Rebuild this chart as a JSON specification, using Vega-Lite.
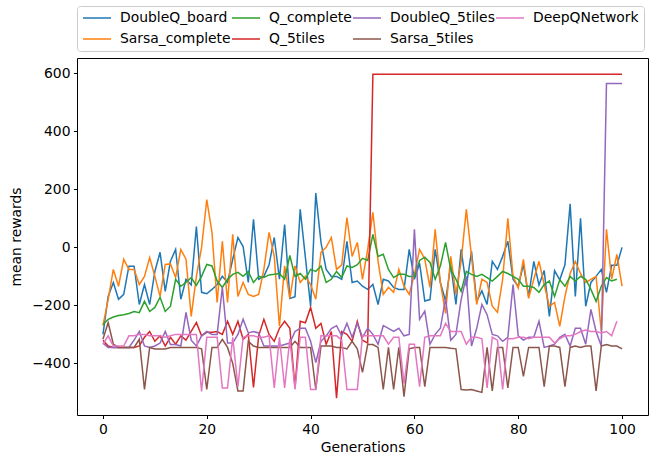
{
"$schema": "https://vega.github.io/schema/vega-lite/v6.json",
"width": 571,
"height": 357,
"autosize": {"type": "none"},
"padding": {"left": 77, "top": 58, "right": 14, "bottom": 40},
"background": "white",
"config": {
  "view": {"stroke": "black", "strokeWidth": 1},
  "font": "DejaVu Sans",
  "axis": {"grid": false, "domain": false, "tickColor": "black", "tickSize": 3.5, "tickWidth": 1, "labelFont": "DejaVu Sans", "labelFontSize": 13.9, "labelColor": "black", "labelPadding": 3.5, "titleFont": "DejaVu Sans", "titleFontSize": 13.9, "titleFontWeight": "normal", "titleColor": "black"},
  "legend": {"orient": "none", "legendX": 0, "legendY": -52, "columns": 4, "symbolType": "stroke", "symbolSize": 784, "symbolStrokeWidth": 1.5, "labelFont": "DejaVu Sans", "labelFontSize": 13.9, "labelColor": "black", "labelOffset": 8, "columnPadding": 0, "rowPadding": 7, "padding": 5, "clipHeight": 14, "strokeColor": "#cccccc", "fillColor": "white", "cornerRadius": 3}
},
"data": {"values": [
{"gen":0,"algo":"DoubleQ_board","val":-300},{"gen":1,"algo":"DoubleQ_board","val":-169},{"gen":2,"algo":"DoubleQ_board","val":-121},{"gen":3,"algo":"DoubleQ_board","val":-179},{"gen":4,"algo":"DoubleQ_board","val":-162},{"gen":5,"algo":"DoubleQ_board","val":-65},{"gen":6,"algo":"DoubleQ_board","val":-65},{"gen":7,"algo":"DoubleQ_board","val":-197},{"gen":8,"algo":"DoubleQ_board","val":-128},{"gen":9,"algo":"DoubleQ_board","val":-197},
{"gen":10,"algo":"DoubleQ_board","val":-83},{"gen":11,"algo":"DoubleQ_board","val":-17},{"gen":12,"algo":"DoubleQ_board","val":-152},{"gen":13,"algo":"DoubleQ_board","val":-48},{"gen":14,"algo":"DoubleQ_board","val":-7},{"gen":15,"algo":"DoubleQ_board","val":-179},{"gen":16,"algo":"DoubleQ_board","val":-110},{"gen":17,"algo":"DoubleQ_board","val":-130},{"gen":18,"algo":"DoubleQ_board","val":72},{"gen":19,"algo":"DoubleQ_board","val":-155},
{"gen":20,"algo":"DoubleQ_board","val":-160},{"gen":21,"algo":"DoubleQ_board","val":-145},{"gen":22,"algo":"DoubleQ_board","val":-128},{"gen":23,"algo":"DoubleQ_board","val":-100},{"gen":24,"algo":"DoubleQ_board","val":-121},{"gen":25,"algo":"DoubleQ_board","val":-41},{"gen":26,"algo":"DoubleQ_board","val":34},{"gen":27,"algo":"DoubleQ_board","val":3},{"gen":28,"algo":"DoubleQ_board","val":-121},{"gen":29,"algo":"DoubleQ_board","val":97},
{"gen":30,"algo":"DoubleQ_board","val":-110},{"gen":31,"algo":"DoubleQ_board","val":-100},{"gen":32,"algo":"DoubleQ_board","val":-60},{"gen":33,"algo":"DoubleQ_board","val":34},{"gen":34,"algo":"DoubleQ_board","val":-110},{"gen":35,"algo":"DoubleQ_board","val":79},{"gen":36,"algo":"DoubleQ_board","val":-176},{"gen":37,"algo":"DoubleQ_board","val":-170},{"gen":38,"algo":"DoubleQ_board","val":131},{"gen":39,"algo":"DoubleQ_board","val":-35},
{"gen":40,"algo":"DoubleQ_board","val":-203},{"gen":41,"algo":"DoubleQ_board","val":187},{"gen":42,"algo":"DoubleQ_board","val":17},{"gen":43,"algo":"DoubleQ_board","val":-76},{"gen":44,"algo":"DoubleQ_board","val":-100},{"gen":45,"algo":"DoubleQ_board","val":-100},{"gen":46,"algo":"DoubleQ_board","val":-110},{"gen":47,"algo":"DoubleQ_board","val":21},{"gen":48,"algo":"DoubleQ_board","val":-121},{"gen":49,"algo":"DoubleQ_board","val":-116},
{"gen":50,"algo":"DoubleQ_board","val":-134},{"gen":51,"algo":"DoubleQ_board","val":-145},{"gen":52,"algo":"DoubleQ_board","val":-128},{"gen":53,"algo":"DoubleQ_board","val":-197},{"gen":54,"algo":"DoubleQ_board","val":-110},{"gen":55,"algo":"DoubleQ_board","val":-116},{"gen":56,"algo":"DoubleQ_board","val":-138},{"gen":57,"algo":"DoubleQ_board","val":-145},{"gen":58,"algo":"DoubleQ_board","val":-145},{"gen":59,"algo":"DoubleQ_board","val":-7},
{"gen":60,"algo":"DoubleQ_board","val":-110},{"gen":61,"algo":"DoubleQ_board","val":-55},{"gen":62,"algo":"DoubleQ_board","val":-185},{"gen":63,"algo":"DoubleQ_board","val":-180},{"gen":64,"algo":"DoubleQ_board","val":-7},{"gen":65,"algo":"DoubleQ_board","val":-121},{"gen":66,"algo":"DoubleQ_board","val":-185},{"gen":67,"algo":"DoubleQ_board","val":-60},{"gen":68,"algo":"DoubleQ_board","val":-197},{"gen":69,"algo":"DoubleQ_board","val":-7},
{"gen":70,"algo":"DoubleQ_board","val":-134},{"gen":71,"algo":"DoubleQ_board","val":-14},{"gen":72,"algo":"DoubleQ_board","val":-185},{"gen":73,"algo":"DoubleQ_board","val":-150},{"gen":74,"algo":"DoubleQ_board","val":-197},{"gen":75,"algo":"DoubleQ_board","val":-48},{"gen":76,"algo":"DoubleQ_board","val":-76},{"gen":77,"algo":"DoubleQ_board","val":-31},{"gen":78,"algo":"DoubleQ_board","val":21},{"gen":79,"algo":"DoubleQ_board","val":-110},
{"gen":80,"algo":"DoubleQ_board","val":-134},{"gen":81,"algo":"DoubleQ_board","val":-59},{"gen":82,"algo":"DoubleQ_board","val":-169},{"gen":83,"algo":"DoubleQ_board","val":-48},{"gen":84,"algo":"DoubleQ_board","val":-130},{"gen":85,"algo":"DoubleQ_board","val":-80},{"gen":86,"algo":"DoubleQ_board","val":-238},{"gen":87,"algo":"DoubleQ_board","val":-80},{"gen":88,"algo":"DoubleQ_board","val":-112},{"gen":89,"algo":"DoubleQ_board","val":-60},
{"gen":90,"algo":"DoubleQ_board","val":150},{"gen":91,"algo":"DoubleQ_board","val":-169},{"gen":92,"algo":"DoubleQ_board","val":100},{"gen":93,"algo":"DoubleQ_board","val":-203},{"gen":94,"algo":"DoubleQ_board","val":-121},{"gen":95,"algo":"DoubleQ_board","val":-100},{"gen":96,"algo":"DoubleQ_board","val":-76},{"gen":97,"algo":"DoubleQ_board","val":-155},{"gen":98,"algo":"DoubleQ_board","val":-62},{"gen":99,"algo":"DoubleQ_board","val":-62},{"gen":100,"algo":"DoubleQ_board","val":0},

{"gen":0,"algo":"Sarsa_complete","val":-270},{"gen":1,"algo":"Sarsa_complete","val":-180},{"gen":2,"algo":"Sarsa_complete","val":-76},{"gen":3,"algo":"Sarsa_complete","val":-134},{"gen":4,"algo":"Sarsa_complete","val":-41},{"gen":5,"algo":"Sarsa_complete","val":-76},{"gen":6,"algo":"Sarsa_complete","val":-76},{"gen":7,"algo":"Sarsa_complete","val":-128},{"gen":8,"algo":"Sarsa_complete","val":-100},{"gen":9,"algo":"Sarsa_complete","val":-35},
{"gen":10,"algo":"Sarsa_complete","val":-100},{"gen":11,"algo":"Sarsa_complete","val":-169},{"gen":12,"algo":"Sarsa_complete","val":-59},{"gen":13,"algo":"Sarsa_complete","val":-57},{"gen":14,"algo":"Sarsa_complete","val":-104},{"gen":15,"algo":"Sarsa_complete","val":-7},{"gen":16,"algo":"Sarsa_complete","val":-41},{"gen":17,"algo":"Sarsa_complete","val":-238},{"gen":18,"algo":"Sarsa_complete","val":-100},{"gen":19,"algo":"Sarsa_complete","val":0},
{"gen":20,"algo":"Sarsa_complete","val":165},{"gen":21,"algo":"Sarsa_complete","val":52},{"gen":22,"algo":"Sarsa_complete","val":-190},{"gen":23,"algo":"Sarsa_complete","val":21},{"gen":24,"algo":"Sarsa_complete","val":-190},{"gen":25,"algo":"Sarsa_complete","val":45},{"gen":26,"algo":"Sarsa_complete","val":-169},{"gen":27,"algo":"Sarsa_complete","val":-121},{"gen":28,"algo":"Sarsa_complete","val":-162},{"gen":29,"algo":"Sarsa_complete","val":-169},
{"gen":30,"algo":"Sarsa_complete","val":-162},{"gen":31,"algo":"Sarsa_complete","val":-76},{"gen":32,"algo":"Sarsa_complete","val":52},{"gen":33,"algo":"Sarsa_complete","val":-31},{"gen":34,"algo":"Sarsa_complete","val":-272},{"gen":35,"algo":"Sarsa_complete","val":-64},{"gen":36,"algo":"Sarsa_complete","val":-176},{"gen":37,"algo":"Sarsa_complete","val":-64},{"gen":38,"algo":"Sarsa_complete","val":-121},{"gen":39,"algo":"Sarsa_complete","val":-100},
{"gen":40,"algo":"Sarsa_complete","val":-128},{"gen":41,"algo":"Sarsa_complete","val":-179},{"gen":42,"algo":"Sarsa_complete","val":-17},{"gen":43,"algo":"Sarsa_complete","val":0},{"gen":44,"algo":"Sarsa_complete","val":34},{"gen":45,"algo":"Sarsa_complete","val":-76},{"gen":46,"algo":"Sarsa_complete","val":-60},{"gen":47,"algo":"Sarsa_complete","val":103},{"gen":48,"algo":"Sarsa_complete","val":-31},{"gen":49,"algo":"Sarsa_complete","val":17},
{"gen":50,"algo":"Sarsa_complete","val":-110},{"gen":51,"algo":"Sarsa_complete","val":-7},{"gen":52,"algo":"Sarsa_complete","val":121},{"gen":53,"algo":"Sarsa_complete","val":-48},{"gen":54,"algo":"Sarsa_complete","val":-162},{"gen":55,"algo":"Sarsa_complete","val":-138},{"gen":56,"algo":"Sarsa_complete","val":-155},{"gen":57,"algo":"Sarsa_complete","val":-76},{"gen":58,"algo":"Sarsa_complete","val":-134},{"gen":59,"algo":"Sarsa_complete","val":-162},
{"gen":60,"algo":"Sarsa_complete","val":-93},{"gen":61,"algo":"Sarsa_complete","val":-7},{"gen":62,"algo":"Sarsa_complete","val":-41},{"gen":63,"algo":"Sarsa_complete","val":-138},{"gen":64,"algo":"Sarsa_complete","val":62},{"gen":65,"algo":"Sarsa_complete","val":-121},{"gen":66,"algo":"Sarsa_complete","val":-228},{"gen":67,"algo":"Sarsa_complete","val":-31},{"gen":68,"algo":"Sarsa_complete","val":-162},{"gen":69,"algo":"Sarsa_complete","val":-48},
{"gen":70,"algo":"Sarsa_complete","val":131},{"gen":71,"algo":"Sarsa_complete","val":-31},{"gen":72,"algo":"Sarsa_complete","val":-197},{"gen":73,"algo":"Sarsa_complete","val":-110},{"gen":74,"algo":"Sarsa_complete","val":-121},{"gen":75,"algo":"Sarsa_complete","val":-203},{"gen":76,"algo":"Sarsa_complete","val":-224},{"gen":77,"algo":"Sarsa_complete","val":-110},{"gen":78,"algo":"Sarsa_complete","val":100},{"gen":79,"algo":"Sarsa_complete","val":-100},
{"gen":80,"algo":"Sarsa_complete","val":-140},{"gen":81,"algo":"Sarsa_complete","val":-41},{"gen":82,"algo":"Sarsa_complete","val":-176},{"gen":83,"algo":"Sarsa_complete","val":-110},{"gen":84,"algo":"Sarsa_complete","val":-48},{"gen":85,"algo":"Sarsa_complete","val":-128},{"gen":86,"algo":"Sarsa_complete","val":-203},{"gen":87,"algo":"Sarsa_complete","val":-190},{"gen":88,"algo":"Sarsa_complete","val":-272},{"gen":89,"algo":"Sarsa_complete","val":-169},
{"gen":90,"algo":"Sarsa_complete","val":-90},{"gen":91,"algo":"Sarsa_complete","val":-48},{"gen":92,"algo":"Sarsa_complete","val":-90},{"gen":93,"algo":"Sarsa_complete","val":-121},{"gen":94,"algo":"Sarsa_complete","val":-110},{"gen":95,"algo":"Sarsa_complete","val":-100},{"gen":96,"algo":"Sarsa_complete","val":-290},{"gen":97,"algo":"Sarsa_complete","val":62},{"gen":98,"algo":"Sarsa_complete","val":-110},{"gen":99,"algo":"Sarsa_complete","val":-24},{"gen":100,"algo":"Sarsa_complete","val":-134},

{"gen":0,"algo":"Q_complete","val":-266},{"gen":1,"algo":"Q_complete","val":-248},{"gen":2,"algo":"Q_complete","val":-240},{"gen":3,"algo":"Q_complete","val":-235},{"gen":4,"algo":"Q_complete","val":-232},{"gen":5,"algo":"Q_complete","val":-228},{"gen":6,"algo":"Q_complete","val":-221},{"gen":7,"algo":"Q_complete","val":-225},{"gen":8,"algo":"Q_complete","val":-186},{"gen":9,"algo":"Q_complete","val":-221},
{"gen":10,"algo":"Q_complete","val":-207},{"gen":11,"algo":"Q_complete","val":-172},{"gen":12,"algo":"Q_complete","val":-221},{"gen":13,"algo":"Q_complete","val":-203},{"gen":14,"algo":"Q_complete","val":-110},{"gen":15,"algo":"Q_complete","val":-134},{"gen":16,"algo":"Q_complete","val":-121},{"gen":17,"algo":"Q_complete","val":-104},{"gen":18,"algo":"Q_complete","val":-131},{"gen":19,"algo":"Q_complete","val":-100},
{"gen":20,"algo":"Q_complete","val":-59},{"gen":21,"algo":"Q_complete","val":-64},{"gen":22,"algo":"Q_complete","val":-116},{"gen":23,"algo":"Q_complete","val":-138},{"gen":24,"algo":"Q_complete","val":-110},{"gen":25,"algo":"Q_complete","val":-93},{"gen":26,"algo":"Q_complete","val":-86},{"gen":27,"algo":"Q_complete","val":-100},{"gen":28,"algo":"Q_complete","val":-83},{"gen":29,"algo":"Q_complete","val":-121},
{"gen":30,"algo":"Q_complete","val":-100},{"gen":31,"algo":"Q_complete","val":-104},{"gen":32,"algo":"Q_complete","val":-95},{"gen":33,"algo":"Q_complete","val":-93},{"gen":34,"algo":"Q_complete","val":-90},{"gen":35,"algo":"Q_complete","val":-110},{"gen":36,"algo":"Q_complete","val":-28},{"gen":37,"algo":"Q_complete","val":-100},{"gen":38,"algo":"Q_complete","val":-90},{"gen":39,"algo":"Q_complete","val":-110},
{"gen":40,"algo":"Q_complete","val":-76},{"gen":41,"algo":"Q_complete","val":-83},{"gen":42,"algo":"Q_complete","val":-64},{"gen":43,"algo":"Q_complete","val":-121},{"gen":44,"algo":"Q_complete","val":-110},{"gen":45,"algo":"Q_complete","val":-83},{"gen":46,"algo":"Q_complete","val":-104},{"gen":47,"algo":"Q_complete","val":-64},{"gen":48,"algo":"Q_complete","val":-69},{"gen":49,"algo":"Q_complete","val":-60},
{"gen":50,"algo":"Q_complete","val":-38},{"gen":51,"algo":"Q_complete","val":-45},{"gen":52,"algo":"Q_complete","val":45},{"gen":53,"algo":"Q_complete","val":-31},{"gen":54,"algo":"Q_complete","val":-24},{"gen":55,"algo":"Q_complete","val":-76},{"gen":56,"algo":"Q_complete","val":-104},{"gen":57,"algo":"Q_complete","val":-93},{"gen":58,"algo":"Q_complete","val":-93},{"gen":59,"algo":"Q_complete","val":-100},
{"gen":60,"algo":"Q_complete","val":-100},{"gen":61,"algo":"Q_complete","val":-45},{"gen":62,"algo":"Q_complete","val":-34},{"gen":63,"algo":"Q_complete","val":-52},{"gen":64,"algo":"Q_complete","val":-110},{"gen":65,"algo":"Q_complete","val":-64},{"gen":66,"algo":"Q_complete","val":17},{"gen":67,"algo":"Q_complete","val":-76},{"gen":68,"algo":"Q_complete","val":-110},{"gen":69,"algo":"Q_complete","val":-152},
{"gen":70,"algo":"Q_complete","val":-83},{"gen":71,"algo":"Q_complete","val":-93},{"gen":72,"algo":"Q_complete","val":-100},{"gen":73,"algo":"Q_complete","val":-93},{"gen":74,"algo":"Q_complete","val":-104},{"gen":75,"algo":"Q_complete","val":-116},{"gen":76,"algo":"Q_complete","val":-100},{"gen":77,"algo":"Q_complete","val":-83},{"gen":78,"algo":"Q_complete","val":-90},{"gen":79,"algo":"Q_complete","val":-100},
{"gen":80,"algo":"Q_complete","val":-110},{"gen":81,"algo":"Q_complete","val":-134},{"gen":82,"algo":"Q_complete","val":-134},{"gen":83,"algo":"Q_complete","val":-138},{"gen":84,"algo":"Q_complete","val":-155},{"gen":85,"algo":"Q_complete","val":-128},{"gen":86,"algo":"Q_complete","val":-116},{"gen":87,"algo":"Q_complete","val":-169},{"gen":88,"algo":"Q_complete","val":-112},{"gen":89,"algo":"Q_complete","val":-134},
{"gen":90,"algo":"Q_complete","val":-100},{"gen":91,"algo":"Q_complete","val":-116},{"gen":92,"algo":"Q_complete","val":-100},{"gen":93,"algo":"Q_complete","val":-110},{"gen":94,"algo":"Q_complete","val":-145},{"gen":95,"algo":"Q_complete","val":-186},{"gen":96,"algo":"Q_complete","val":-134},{"gen":97,"algo":"Q_complete","val":-104},{"gen":98,"algo":"Q_complete","val":-116},{"gen":99,"algo":"Q_complete","val":-110},

{"gen":0,"algo":"Q_5tiles","val":-320},{"gen":1,"algo":"Q_5tiles","val":-340},{"gen":2,"algo":"Q_5tiles","val":-345},{"gen":3,"algo":"Q_5tiles","val":-345},{"gen":4,"algo":"Q_5tiles","val":-345},{"gen":5,"algo":"Q_5tiles","val":-345},{"gen":6,"algo":"Q_5tiles","val":-345},{"gen":7,"algo":"Q_5tiles","val":-340},{"gen":8,"algo":"Q_5tiles","val":-310},{"gen":9,"algo":"Q_5tiles","val":-290},
{"gen":10,"algo":"Q_5tiles","val":-324},{"gen":11,"algo":"Q_5tiles","val":-305},{"gen":12,"algo":"Q_5tiles","val":-340},{"gen":13,"algo":"Q_5tiles","val":-310},{"gen":14,"algo":"Q_5tiles","val":-334},{"gen":15,"algo":"Q_5tiles","val":-305},{"gen":16,"algo":"Q_5tiles","val":-320},{"gen":17,"algo":"Q_5tiles","val":-290},{"gen":18,"algo":"Q_5tiles","val":-259},{"gen":19,"algo":"Q_5tiles","val":-305},
{"gen":20,"algo":"Q_5tiles","val":-293},{"gen":21,"algo":"Q_5tiles","val":-293},{"gen":22,"algo":"Q_5tiles","val":-290},{"gen":23,"algo":"Q_5tiles","val":-300},{"gen":24,"algo":"Q_5tiles","val":-255},{"gen":25,"algo":"Q_5tiles","val":-300},{"gen":26,"algo":"Q_5tiles","val":-255},{"gen":27,"algo":"Q_5tiles","val":-317},{"gen":28,"algo":"Q_5tiles","val":-300},{"gen":29,"algo":"Q_5tiles","val":-483},
{"gen":30,"algo":"Q_5tiles","val":-305},{"gen":31,"algo":"Q_5tiles","val":-248},{"gen":32,"algo":"Q_5tiles","val":-300},{"gen":33,"algo":"Q_5tiles","val":-324},{"gen":34,"algo":"Q_5tiles","val":-279},{"gen":35,"algo":"Q_5tiles","val":-255},{"gen":36,"algo":"Q_5tiles","val":-279},{"gen":37,"algo":"Q_5tiles","val":-483},{"gen":38,"algo":"Q_5tiles","val":-255},{"gen":39,"algo":"Q_5tiles","val":-260},
{"gen":40,"algo":"Q_5tiles","val":-207},{"gen":41,"algo":"Q_5tiles","val":-279},{"gen":42,"algo":"Q_5tiles","val":-262},{"gen":43,"algo":"Q_5tiles","val":-334},{"gen":44,"algo":"Q_5tiles","val":-290},{"gen":45,"algo":"Q_5tiles","val":-520},{"gen":46,"algo":"Q_5tiles","val":-290},{"gen":47,"algo":"Q_5tiles","val":-300},{"gen":48,"algo":"Q_5tiles","val":-324},{"gen":49,"algo":"Q_5tiles","val":-255},
{"gen":50,"algo":"Q_5tiles","val":-320},{"gen":51,"algo":"Q_5tiles","val":-330},{"gen":52,"algo":"Q_5tiles","val":597},{"gen":53,"algo":"Q_5tiles","val":597},{"gen":54,"algo":"Q_5tiles","val":597},{"gen":55,"algo":"Q_5tiles","val":597},{"gen":56,"algo":"Q_5tiles","val":597},{"gen":57,"algo":"Q_5tiles","val":597},{"gen":58,"algo":"Q_5tiles","val":597},{"gen":59,"algo":"Q_5tiles","val":597},
{"gen":60,"algo":"Q_5tiles","val":597},{"gen":61,"algo":"Q_5tiles","val":597},{"gen":62,"algo":"Q_5tiles","val":597},{"gen":63,"algo":"Q_5tiles","val":597},{"gen":64,"algo":"Q_5tiles","val":597},{"gen":65,"algo":"Q_5tiles","val":597},{"gen":66,"algo":"Q_5tiles","val":597},{"gen":67,"algo":"Q_5tiles","val":597},{"gen":68,"algo":"Q_5tiles","val":597},{"gen":69,"algo":"Q_5tiles","val":597},
{"gen":70,"algo":"Q_5tiles","val":597},{"gen":71,"algo":"Q_5tiles","val":597},{"gen":72,"algo":"Q_5tiles","val":597},{"gen":73,"algo":"Q_5tiles","val":597},{"gen":74,"algo":"Q_5tiles","val":597},{"gen":75,"algo":"Q_5tiles","val":597},{"gen":76,"algo":"Q_5tiles","val":597},{"gen":77,"algo":"Q_5tiles","val":597},{"gen":78,"algo":"Q_5tiles","val":597},{"gen":79,"algo":"Q_5tiles","val":597},
{"gen":80,"algo":"Q_5tiles","val":597},{"gen":81,"algo":"Q_5tiles","val":597},{"gen":82,"algo":"Q_5tiles","val":597},{"gen":83,"algo":"Q_5tiles","val":597},{"gen":84,"algo":"Q_5tiles","val":597},{"gen":85,"algo":"Q_5tiles","val":597},{"gen":86,"algo":"Q_5tiles","val":597},{"gen":87,"algo":"Q_5tiles","val":597},{"gen":88,"algo":"Q_5tiles","val":597},{"gen":89,"algo":"Q_5tiles","val":597},
{"gen":90,"algo":"Q_5tiles","val":597},{"gen":91,"algo":"Q_5tiles","val":597},{"gen":92,"algo":"Q_5tiles","val":597},{"gen":93,"algo":"Q_5tiles","val":597},{"gen":94,"algo":"Q_5tiles","val":597},{"gen":95,"algo":"Q_5tiles","val":597},{"gen":96,"algo":"Q_5tiles","val":597},{"gen":97,"algo":"Q_5tiles","val":597},{"gen":98,"algo":"Q_5tiles","val":597},{"gen":99,"algo":"Q_5tiles","val":597},{"gen":100,"algo":"Q_5tiles","val":597},

{"gen":0,"algo":"DoubleQ_5tiles","val":-330},{"gen":1,"algo":"DoubleQ_5tiles","val":-345},{"gen":2,"algo":"DoubleQ_5tiles","val":-345},{"gen":3,"algo":"DoubleQ_5tiles","val":-345},{"gen":4,"algo":"DoubleQ_5tiles","val":-345},{"gen":5,"algo":"DoubleQ_5tiles","val":-345},{"gen":6,"algo":"DoubleQ_5tiles","val":-320},{"gen":7,"algo":"DoubleQ_5tiles","val":-290},{"gen":8,"algo":"DoubleQ_5tiles","val":-340},{"gen":9,"algo":"DoubleQ_5tiles","val":-345},
{"gen":10,"algo":"DoubleQ_5tiles","val":-340},{"gen":11,"algo":"DoubleQ_5tiles","val":-330},{"gen":12,"algo":"DoubleQ_5tiles","val":-290},{"gen":13,"algo":"DoubleQ_5tiles","val":-335},{"gen":14,"algo":"DoubleQ_5tiles","val":-335},{"gen":15,"algo":"DoubleQ_5tiles","val":-340},{"gen":16,"algo":"DoubleQ_5tiles","val":-224},{"gen":17,"algo":"DoubleQ_5tiles","val":-320},{"gen":18,"algo":"DoubleQ_5tiles","val":-340},{"gen":19,"algo":"DoubleQ_5tiles","val":-305},
{"gen":20,"algo":"DoubleQ_5tiles","val":-290},{"gen":21,"algo":"DoubleQ_5tiles","val":-300},{"gen":22,"algo":"DoubleQ_5tiles","val":-300},{"gen":23,"algo":"DoubleQ_5tiles","val":-138},{"gen":24,"algo":"DoubleQ_5tiles","val":-330},{"gen":25,"algo":"DoubleQ_5tiles","val":-330},{"gen":26,"algo":"DoubleQ_5tiles","val":-300},{"gen":27,"algo":"DoubleQ_5tiles","val":-248},{"gen":28,"algo":"DoubleQ_5tiles","val":-295},{"gen":29,"algo":"DoubleQ_5tiles","val":-290},
{"gen":30,"algo":"DoubleQ_5tiles","val":-295},{"gen":31,"algo":"DoubleQ_5tiles","val":-340},{"gen":32,"algo":"DoubleQ_5tiles","val":-340},{"gen":33,"algo":"DoubleQ_5tiles","val":-340},{"gen":34,"algo":"DoubleQ_5tiles","val":-340},{"gen":35,"algo":"DoubleQ_5tiles","val":-335},{"gen":36,"algo":"DoubleQ_5tiles","val":-330},{"gen":37,"algo":"DoubleQ_5tiles","val":-290},{"gen":38,"algo":"DoubleQ_5tiles","val":-279},{"gen":39,"algo":"DoubleQ_5tiles","val":-279},
{"gen":40,"algo":"DoubleQ_5tiles","val":-324},{"gen":41,"algo":"DoubleQ_5tiles","val":-397},{"gen":42,"algo":"DoubleQ_5tiles","val":-324},{"gen":43,"algo":"DoubleQ_5tiles","val":-305},{"gen":44,"algo":"DoubleQ_5tiles","val":-280},{"gen":45,"algo":"DoubleQ_5tiles","val":-270},{"gen":46,"algo":"DoubleQ_5tiles","val":-305},{"gen":47,"algo":"DoubleQ_5tiles","val":-262},{"gen":48,"algo":"DoubleQ_5tiles","val":-310},{"gen":49,"algo":"DoubleQ_5tiles","val":-262},
{"gen":50,"algo":"DoubleQ_5tiles","val":-310},{"gen":51,"algo":"DoubleQ_5tiles","val":-279},{"gen":52,"algo":"DoubleQ_5tiles","val":-300},{"gen":53,"algo":"DoubleQ_5tiles","val":-334},{"gen":54,"algo":"DoubleQ_5tiles","val":-270},{"gen":55,"algo":"DoubleQ_5tiles","val":-279},{"gen":56,"algo":"DoubleQ_5tiles","val":-290},{"gen":57,"algo":"DoubleQ_5tiles","val":-279},{"gen":58,"algo":"DoubleQ_5tiles","val":-305},{"gen":59,"algo":"DoubleQ_5tiles","val":-300},
{"gen":60,"algo":"DoubleQ_5tiles","val":62},{"gen":61,"algo":"DoubleQ_5tiles","val":-248},{"gen":62,"algo":"DoubleQ_5tiles","val":-220},{"gen":63,"algo":"DoubleQ_5tiles","val":-334},{"gen":64,"algo":"DoubleQ_5tiles","val":-300},{"gen":65,"algo":"DoubleQ_5tiles","val":-279},{"gen":66,"algo":"DoubleQ_5tiles","val":-176},{"gen":67,"algo":"DoubleQ_5tiles","val":-320},{"gen":68,"algo":"DoubleQ_5tiles","val":-300},{"gen":69,"algo":"DoubleQ_5tiles","val":-180},
{"gen":70,"algo":"DoubleQ_5tiles","val":-100},{"gen":71,"algo":"DoubleQ_5tiles","val":-340},{"gen":72,"algo":"DoubleQ_5tiles","val":-279},{"gen":73,"algo":"DoubleQ_5tiles","val":-197},{"gen":74,"algo":"DoubleQ_5tiles","val":-232},{"gen":75,"algo":"DoubleQ_5tiles","val":-300},{"gen":76,"algo":"DoubleQ_5tiles","val":-305},{"gen":77,"algo":"DoubleQ_5tiles","val":-324},{"gen":78,"algo":"DoubleQ_5tiles","val":-310},{"gen":79,"algo":"DoubleQ_5tiles","val":-128},
{"gen":80,"algo":"DoubleQ_5tiles","val":-305},{"gen":81,"algo":"DoubleQ_5tiles","val":-320},{"gen":82,"algo":"DoubleQ_5tiles","val":-310},{"gen":83,"algo":"DoubleQ_5tiles","val":-310},{"gen":84,"algo":"DoubleQ_5tiles","val":-255},{"gen":85,"algo":"DoubleQ_5tiles","val":-345},{"gen":86,"algo":"DoubleQ_5tiles","val":-340},{"gen":87,"algo":"DoubleQ_5tiles","val":-334},{"gen":88,"algo":"DoubleQ_5tiles","val":-310},{"gen":89,"algo":"DoubleQ_5tiles","val":-300},
{"gen":90,"algo":"DoubleQ_5tiles","val":-340},{"gen":91,"algo":"DoubleQ_5tiles","val":-279},{"gen":92,"algo":"DoubleQ_5tiles","val":-279},{"gen":93,"algo":"DoubleQ_5tiles","val":-334},{"gen":94,"algo":"DoubleQ_5tiles","val":-214},{"gen":95,"algo":"DoubleQ_5tiles","val":-290},{"gen":96,"algo":"DoubleQ_5tiles","val":-340},{"gen":97,"algo":"DoubleQ_5tiles","val":565},{"gen":98,"algo":"DoubleQ_5tiles","val":565},{"gen":99,"algo":"DoubleQ_5tiles","val":565},{"gen":100,"algo":"DoubleQ_5tiles","val":565},

{"gen":0,"algo":"Sarsa_5tiles","val":-317},{"gen":1,"algo":"Sarsa_5tiles","val":-259},{"gen":2,"algo":"Sarsa_5tiles","val":-334},{"gen":3,"algo":"Sarsa_5tiles","val":-345},{"gen":4,"algo":"Sarsa_5tiles","val":-345},{"gen":5,"algo":"Sarsa_5tiles","val":-345},{"gen":6,"algo":"Sarsa_5tiles","val":-345},{"gen":7,"algo":"Sarsa_5tiles","val":-317},{"gen":8,"algo":"Sarsa_5tiles","val":-490},{"gen":9,"algo":"Sarsa_5tiles","val":-345},
{"gen":10,"algo":"Sarsa_5tiles","val":-350},{"gen":11,"algo":"Sarsa_5tiles","val":-350},{"gen":12,"algo":"Sarsa_5tiles","val":-350},{"gen":13,"algo":"Sarsa_5tiles","val":-345},{"gen":14,"algo":"Sarsa_5tiles","val":-345},{"gen":15,"algo":"Sarsa_5tiles","val":-345},{"gen":16,"algo":"Sarsa_5tiles","val":-345},{"gen":17,"algo":"Sarsa_5tiles","val":-345},{"gen":18,"algo":"Sarsa_5tiles","val":-345},{"gen":19,"algo":"Sarsa_5tiles","val":-350},
{"gen":20,"algo":"Sarsa_5tiles","val":-490},{"gen":21,"algo":"Sarsa_5tiles","val":-345},{"gen":22,"algo":"Sarsa_5tiles","val":-345},{"gen":23,"algo":"Sarsa_5tiles","val":-317},{"gen":24,"algo":"Sarsa_5tiles","val":-345},{"gen":25,"algo":"Sarsa_5tiles","val":-400},{"gen":26,"algo":"Sarsa_5tiles","val":-495},{"gen":27,"algo":"Sarsa_5tiles","val":-495},{"gen":28,"algo":"Sarsa_5tiles","val":-324},{"gen":29,"algo":"Sarsa_5tiles","val":-340},
{"gen":30,"algo":"Sarsa_5tiles","val":-345},{"gen":31,"algo":"Sarsa_5tiles","val":-345},{"gen":32,"algo":"Sarsa_5tiles","val":-345},{"gen":33,"algo":"Sarsa_5tiles","val":-345},{"gen":34,"algo":"Sarsa_5tiles","val":-345},{"gen":35,"algo":"Sarsa_5tiles","val":-345},{"gen":36,"algo":"Sarsa_5tiles","val":-345},{"gen":37,"algo":"Sarsa_5tiles","val":-324},{"gen":38,"algo":"Sarsa_5tiles","val":-345},{"gen":39,"algo":"Sarsa_5tiles","val":-345},
{"gen":40,"algo":"Sarsa_5tiles","val":-345},{"gen":41,"algo":"Sarsa_5tiles","val":-490},{"gen":42,"algo":"Sarsa_5tiles","val":-340},{"gen":43,"algo":"Sarsa_5tiles","val":-340},{"gen":44,"algo":"Sarsa_5tiles","val":-340},{"gen":45,"algo":"Sarsa_5tiles","val":-345},{"gen":46,"algo":"Sarsa_5tiles","val":-345},{"gen":47,"algo":"Sarsa_5tiles","val":-350},{"gen":48,"algo":"Sarsa_5tiles","val":-324},{"gen":49,"algo":"Sarsa_5tiles","val":-350},
{"gen":50,"algo":"Sarsa_5tiles","val":-431},{"gen":51,"algo":"Sarsa_5tiles","val":-335},{"gen":52,"algo":"Sarsa_5tiles","val":-335},{"gen":53,"algo":"Sarsa_5tiles","val":-345},{"gen":54,"algo":"Sarsa_5tiles","val":-490},{"gen":55,"algo":"Sarsa_5tiles","val":-345},{"gen":56,"algo":"Sarsa_5tiles","val":-490},{"gen":57,"algo":"Sarsa_5tiles","val":-345},{"gen":58,"algo":"Sarsa_5tiles","val":-515},{"gen":59,"algo":"Sarsa_5tiles","val":-350},
{"gen":60,"algo":"Sarsa_5tiles","val":-345},{"gen":61,"algo":"Sarsa_5tiles","val":-345},{"gen":62,"algo":"Sarsa_5tiles","val":-480},{"gen":63,"algo":"Sarsa_5tiles","val":-345},{"gen":64,"algo":"Sarsa_5tiles","val":-345},{"gen":65,"algo":"Sarsa_5tiles","val":-345},{"gen":66,"algo":"Sarsa_5tiles","val":-345},{"gen":67,"algo":"Sarsa_5tiles","val":-348},{"gen":68,"algo":"Sarsa_5tiles","val":-350},{"gen":69,"algo":"Sarsa_5tiles","val":-490},
{"gen":70,"algo":"Sarsa_5tiles","val":-492},{"gen":71,"algo":"Sarsa_5tiles","val":-490},{"gen":72,"algo":"Sarsa_5tiles","val":-495},{"gen":73,"algo":"Sarsa_5tiles","val":-500},{"gen":74,"algo":"Sarsa_5tiles","val":-345},{"gen":75,"algo":"Sarsa_5tiles","val":-495},{"gen":76,"algo":"Sarsa_5tiles","val":-345},{"gen":77,"algo":"Sarsa_5tiles","val":-345},{"gen":78,"algo":"Sarsa_5tiles","val":-485},{"gen":79,"algo":"Sarsa_5tiles","val":-345},
{"gen":80,"algo":"Sarsa_5tiles","val":-345},{"gen":81,"algo":"Sarsa_5tiles","val":-445},{"gen":82,"algo":"Sarsa_5tiles","val":-345},{"gen":83,"algo":"Sarsa_5tiles","val":-345},{"gen":84,"algo":"Sarsa_5tiles","val":-345},{"gen":85,"algo":"Sarsa_5tiles","val":-480},{"gen":86,"algo":"Sarsa_5tiles","val":-340},{"gen":87,"algo":"Sarsa_5tiles","val":-340},{"gen":88,"algo":"Sarsa_5tiles","val":-345},{"gen":89,"algo":"Sarsa_5tiles","val":-480},
{"gen":90,"algo":"Sarsa_5tiles","val":-345},{"gen":91,"algo":"Sarsa_5tiles","val":-340},{"gen":92,"algo":"Sarsa_5tiles","val":-345},{"gen":93,"algo":"Sarsa_5tiles","val":-340},{"gen":94,"algo":"Sarsa_5tiles","val":-340},{"gen":95,"algo":"Sarsa_5tiles","val":-495},{"gen":96,"algo":"Sarsa_5tiles","val":-340},{"gen":97,"algo":"Sarsa_5tiles","val":-335},{"gen":98,"algo":"Sarsa_5tiles","val":-340},{"gen":99,"algo":"Sarsa_5tiles","val":-340},{"gen":100,"algo":"Sarsa_5tiles","val":-350},

{"gen":0,"algo":"DeepQNetwork","val":-334},{"gen":1,"algo":"DeepQNetwork","val":-305},{"gen":2,"algo":"DeepQNetwork","val":-340},{"gen":3,"algo":"DeepQNetwork","val":-340},{"gen":4,"algo":"DeepQNetwork","val":-340},{"gen":5,"algo":"DeepQNetwork","val":-305},{"gen":6,"algo":"DeepQNetwork","val":-305},{"gen":7,"algo":"DeepQNetwork","val":-300},{"gen":8,"algo":"DeepQNetwork","val":-300},{"gen":9,"algo":"DeepQNetwork","val":-305},
{"gen":10,"algo":"DeepQNetwork","val":-305},{"gen":11,"algo":"DeepQNetwork","val":-305},{"gen":12,"algo":"DeepQNetwork","val":-310},{"gen":13,"algo":"DeepQNetwork","val":-305},{"gen":14,"algo":"DeepQNetwork","val":-300},{"gen":15,"algo":"DeepQNetwork","val":-300},{"gen":16,"algo":"DeepQNetwork","val":-300},{"gen":17,"algo":"DeepQNetwork","val":-300},{"gen":18,"algo":"DeepQNetwork","val":-300},{"gen":19,"algo":"DeepQNetwork","val":-497},
{"gen":20,"algo":"DeepQNetwork","val":-310},{"gen":21,"algo":"DeepQNetwork","val":-310},{"gen":22,"algo":"DeepQNetwork","val":-310},{"gen":23,"algo":"DeepQNetwork","val":-485},{"gen":24,"algo":"DeepQNetwork","val":-485},{"gen":25,"algo":"DeepQNetwork","val":-310},{"gen":26,"algo":"DeepQNetwork","val":-480},{"gen":27,"algo":"DeepQNetwork","val":-310},{"gen":28,"algo":"DeepQNetwork","val":-305},{"gen":29,"algo":"DeepQNetwork","val":-305},
{"gen":30,"algo":"DeepQNetwork","val":-310},{"gen":31,"algo":"DeepQNetwork","val":-310},{"gen":32,"algo":"DeepQNetwork","val":-305},{"gen":33,"algo":"DeepQNetwork","val":-485},{"gen":34,"algo":"DeepQNetwork","val":-310},{"gen":35,"algo":"DeepQNetwork","val":-485},{"gen":36,"algo":"DeepQNetwork","val":-315},{"gen":37,"algo":"DeepQNetwork","val":-490},{"gen":38,"algo":"DeepQNetwork","val":-310},{"gen":39,"algo":"DeepQNetwork","val":-310},
{"gen":40,"algo":"DeepQNetwork","val":-490},{"gen":41,"algo":"DeepQNetwork","val":-490},{"gen":42,"algo":"DeepQNetwork","val":-305},{"gen":43,"algo":"DeepQNetwork","val":-305},{"gen":44,"algo":"DeepQNetwork","val":-305},{"gen":45,"algo":"DeepQNetwork","val":-305},{"gen":46,"algo":"DeepQNetwork","val":-320},{"gen":47,"algo":"DeepQNetwork","val":-490},{"gen":48,"algo":"DeepQNetwork","val":-490},{"gen":49,"algo":"DeepQNetwork","val":-490},
{"gen":50,"algo":"DeepQNetwork","val":-305},{"gen":51,"algo":"DeepQNetwork","val":-305},{"gen":52,"algo":"DeepQNetwork","val":-305},{"gen":53,"algo":"DeepQNetwork","val":-305},{"gen":54,"algo":"DeepQNetwork","val":-305},{"gen":55,"algo":"DeepQNetwork","val":-334},{"gen":56,"algo":"DeepQNetwork","val":-310},{"gen":57,"algo":"DeepQNetwork","val":-310},{"gen":58,"algo":"DeepQNetwork","val":-470},{"gen":59,"algo":"DeepQNetwork","val":-334},
{"gen":60,"algo":"DeepQNetwork","val":-334},{"gen":61,"algo":"DeepQNetwork","val":-480},{"gen":62,"algo":"DeepQNetwork","val":-310},{"gen":63,"algo":"DeepQNetwork","val":-305},{"gen":64,"algo":"DeepQNetwork","val":-305},{"gen":65,"algo":"DeepQNetwork","val":-305},{"gen":66,"algo":"DeepQNetwork","val":-262},{"gen":67,"algo":"DeepQNetwork","val":-290},{"gen":68,"algo":"DeepQNetwork","val":-290},{"gen":69,"algo":"DeepQNetwork","val":-290},
{"gen":70,"algo":"DeepQNetwork","val":-334},{"gen":71,"algo":"DeepQNetwork","val":-310},{"gen":72,"algo":"DeepQNetwork","val":-310},{"gen":73,"algo":"DeepQNetwork","val":-315},{"gen":74,"algo":"DeepQNetwork","val":-485},{"gen":75,"algo":"DeepQNetwork","val":-310},{"gen":76,"algo":"DeepQNetwork","val":-320},{"gen":77,"algo":"DeepQNetwork","val":-490},{"gen":78,"algo":"DeepQNetwork","val":-315},{"gen":79,"algo":"DeepQNetwork","val":-315},
{"gen":80,"algo":"DeepQNetwork","val":-310},{"gen":81,"algo":"DeepQNetwork","val":-310},{"gen":82,"algo":"DeepQNetwork","val":-315},{"gen":83,"algo":"DeepQNetwork","val":-310},{"gen":84,"algo":"DeepQNetwork","val":-310},{"gen":85,"algo":"DeepQNetwork","val":-310},{"gen":86,"algo":"DeepQNetwork","val":-310},{"gen":87,"algo":"DeepQNetwork","val":-330},{"gen":88,"algo":"DeepQNetwork","val":-315},{"gen":89,"algo":"DeepQNetwork","val":-305},
{"gen":90,"algo":"DeepQNetwork","val":-305},{"gen":91,"algo":"DeepQNetwork","val":-300},{"gen":92,"algo":"DeepQNetwork","val":-290},{"gen":93,"algo":"DeepQNetwork","val":-285},{"gen":94,"algo":"DeepQNetwork","val":-290},{"gen":95,"algo":"DeepQNetwork","val":-290},{"gen":96,"algo":"DeepQNetwork","val":-295},{"gen":97,"algo":"DeepQNetwork","val":-290},{"gen":98,"algo":"DeepQNetwork","val":-305},{"gen":99,"algo":"DeepQNetwork","val":-255}
]},
"mark": {"type": "line", "strokeWidth": 1.5, "clip": true},
"encoding": {
  "x": {"field": "gen", "type": "quantitative", "scale": {"domain": [-5, 105], "nice": false, "zero": false}, "axis": {"values": [0, 20, 40, 60, 80, 100], "title": "Generations", "titlePadding": 5}},
  "y": {"field": "val", "type": "quantitative", "scale": {"domain": [-578, 653], "nice": false, "zero": false}, "axis": {"values": [-400, -200, 0, 200, 400, 600], "title": "mean rewards", "titlePadding": 8}},
  "color": {"field": "algo", "type": "nominal",
    "scale": {"domain": ["DoubleQ_board", "Sarsa_complete", "Q_complete", "Q_5tiles", "DoubleQ_5tiles", "Sarsa_5tiles", "DeepQNetwork"],
              "range": ["#1f77b4", "#ff7f0e", "#2ca02c", "#d62728", "#9467bd", "#8c564b", "#e377c2"]},
    "legend": {"title": null}}
}
}
